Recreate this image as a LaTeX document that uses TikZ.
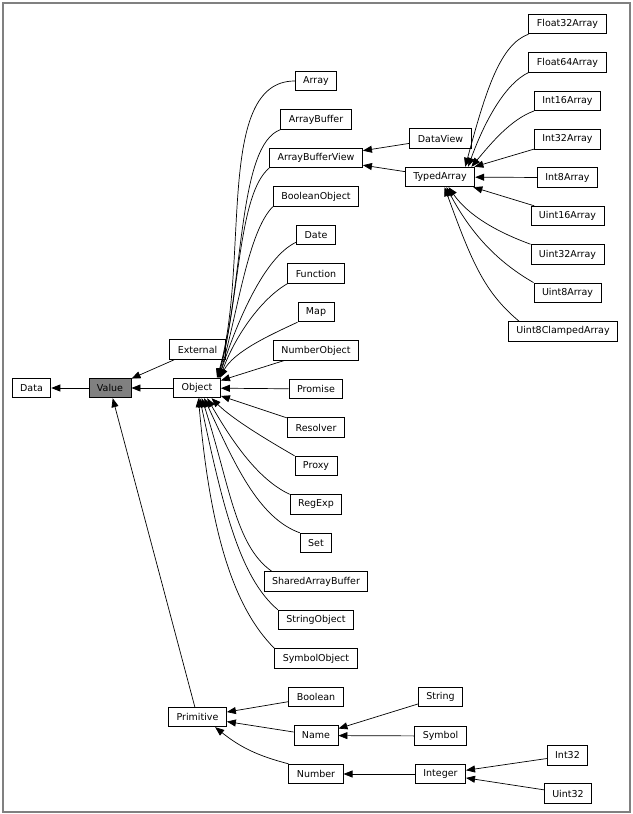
\documentclass[tikz,border=0pt]{standalone}
\usepackage{fontspec}
\setmainfont{DejaVu Sans}
\usetikzlibrary{arrows.meta}
\tikzset{>={Triangle[width=7pt,length=9pt]}}

\begin{document}
\begin{tikzpicture}[
    x = 1pt, y = 1pt,
    box/.style = {draw, line width=0.9pt, minimum height=19.5pt,
        inner xsep=8pt, inner ysep=0pt, font=\fontsize{9.5}{11}\selectfont},
    edge/.style = {->, line width=0.7pt}
  ]
  \useasboundingbox (0,0) rectangle (632,-814);
  \draw[gray, line width=1.2pt] (3,-3) rectangle (630,-812);

  \node[box] (Data) at (31.5,-388) {Data};
  \node[box, fill=gray] (Value) at (110,-388) {Value};
  \node[box] (Object) at (197,-388) {Object};
  \node[box] (External) at (197.5,-349.5) {External};
  \node[box] (Primitive) at (197.5,-717) {Primitive};

  \foreach \n [count=\i from 0] in {Array, ArrayBuffer, ArrayBufferView,
      BooleanObject, Date, Function, Map, NumberObject, Promise, Resolver,
      Proxy, RegExp, Set, SharedArrayBuffer, StringObject, SymbolObject,
      Boolean, Name, Number}
  \node[box] (\n) at (316,{-81-38.5*\i}) {\n};

  \foreach \n [count=\i from 0] in {Float32Array, Float64Array, Int16Array,
      Int32Array, Int8Array, Uint16Array, Uint32Array, Uint8Array}
  \node[box] (\n) at (567.5,{-24-38.4*\i}) {\n};
  \node[box] (Uint8ClampedArray) at (563,-331.2) {Uint8ClampedArray};

  \node[box] (DataView) at (440.5,-138.5) {DataView};
  \node[box] (TypedArray) at (440,-177) {TypedArray};
  \node[box] (String) at (440.5,-697) {String};
  \node[box] (Symbol) at (440.5,-736) {Symbol};
  \node[box] (Integer) at (440.5,-774) {Integer};
  \node[box] (Int32) at (567.5,-755.5) {Int32};
  \node[box] (Uint32) at (568,-793.5) {Uint32};

  % straight connectors
  \foreach \a/\b in {Value/Data, Object/Value, External/Value, Primitive/Value,
      NumberObject/Object, Promise/Object, Resolver/Object,
      DataView/ArrayBufferView, TypedArray/ArrayBufferView,
      Int32Array/TypedArray, Int8Array/TypedArray, Uint16Array/TypedArray,
      Boolean/Primitive, Name/Primitive, String/Name, Symbol/Name,
      Integer/Number, Int32/Integer, Uint32/Integer}
  \draw[edge] (\a) -- (\b);

  % curved connectors into Object
  \foreach \n/\s/\o/\p/\i/\q/\e in {
      Array/west/180/80/74/120/27,
      ArrayBuffer/south west/200/45/75/100/26,
      ArrayBufferView/south west/220/40/75/85/26,
      BooleanObject/south west/225/35/74/70/25,
      Date/200/205/35/72/60/25,
      Function/south west/210/30/70/45/24,
      Map/south west/205/30/62/30/24,
      Proxy/north west/150/30/-45/30/-35,
      RegExp/north west/155/35/-60/50/-45,
      Set/north west/160/45/-65/70/-55,
      SharedArrayBuffer/167/145/45/-72/90/-65,
      StringObject/north west/140/50/-78/110/-75,
      SymbolObject/north west/135/60/-85/130/-82}
  \draw[edge] (\n.\s) .. controls +(\o:\p) and +(\i:\q) .. (Object.\e);

  % curved connectors into TypedArray
  \foreach \n/\s/\o/\p/\i/\q/\e in {
      Float32Array/south west/200/30/75/80/22,
      Float64Array/south west/205/25/70/50/20,
      Int16Array/south west/200/25/50/30/18,
      Uint32Array/north west/160/35/-55/35/-50,
      Uint8Array/north west/150/40/-62/55/-58,
      Uint8ClampedArray/167/140/45/-70/80/-66}
  \draw[edge] (\n.\s) .. controls +(\o:\p) and +(\i:\q) .. (TypedArray.\e);

  \draw[edge] (Number.north west) to[bend left=12] (Primitive.-30);
\end{tikzpicture}
\end{document}
